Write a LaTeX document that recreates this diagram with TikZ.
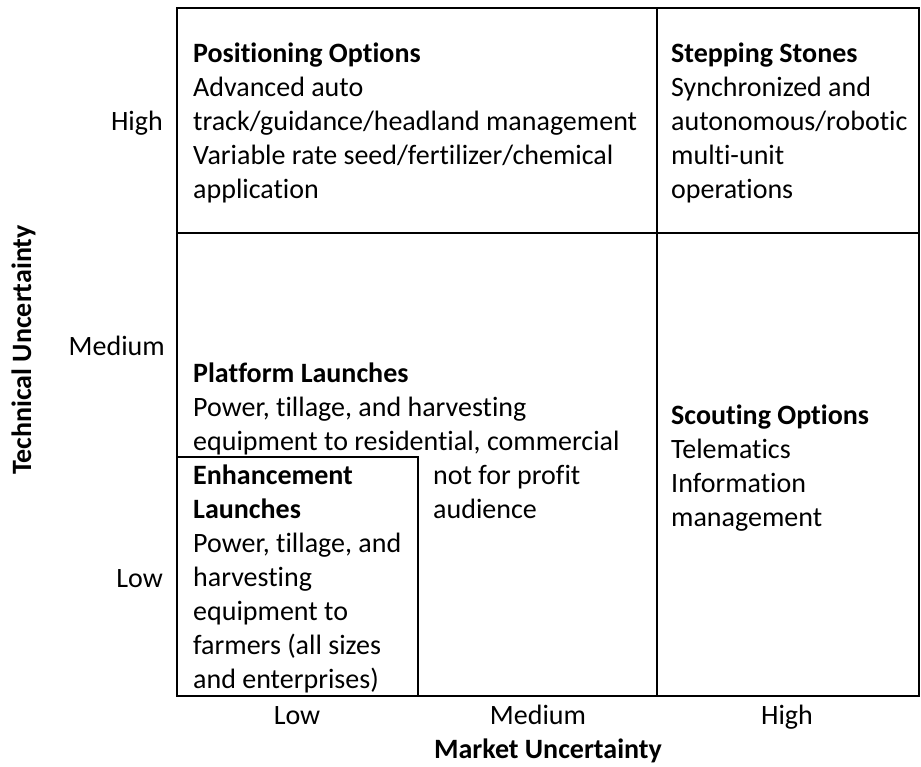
\documentclass[tikz,border=0pt]{standalone}
\usepackage{fontspec}
\setmainfont[Ligatures=NoCommon]{Carlito}
\begin{document}
\begin{tikzpicture}[x=1pt,y=-1pt,
  txt/.style={inner sep=0pt, anchor=base west, align=left, font=\fontsize{28}{34}\selectfont},
  axl/.style={inner sep=0pt, anchor=base east, font=\fontsize{28}{34}\selectfont},
  axb/.style={inner sep=0pt, anchor=base, font=\fontsize{28}{34}\selectfont},
  ttl/.style={inner sep=0pt, anchor=base, font=\fontsize{28}{34}\selectfont\bfseries},
  grid/.style={line width=2.2pt, black}]
\useasboundingbox (0,0) rectangle (921,766);
% grid
\coordinate (tl) at (177,8);
\coordinate (br) at (919,696);
\draw[grid] (tl) rectangle (br);
\draw[grid] (657,8) -- (657,696);
\draw[grid] (177,233) -- (919,233);
\draw[grid] (177,457) -- (418,457) -- (418,696);
% cells (anchor = baseline of last line)
\node[txt] (pos) at (193,198) {\textbf{Positioning Options}\\Advanced auto\\track/guidance/headland management\\Variable rate seed/fertilizer/chemical\\application};
\node[txt] (step) at (671,198) {\textbf{Stepping Stones}\\Synchronized and\\autonomous/robotic\\multi-unit\\operations};
\node[txt] (plat) at (193,450) {\textbf{Platform Launches}\\Power, tillage, and harvesting\\equipment to residential, commercial};
\node[txt] (plat2) at (433,518) {not for profit\\audience};
\node[txt] (enh) at (193,688) {\textbf{Enhancement}\\\textbf{Launches}\\Power, tillage, and\\harvesting\\equipment to\\farmers (all sizes\\and enterprises)};
\node[txt] (scout) at (671,526) {\textbf{Scouting Options}\\Telematics\\Information\\management};
% axes
\node[axl] (yh) at (163,130) {High};
\node[axl] (ym) at (165,355) {Medium};
\node[axl] (yl) at (163,587) {Low};
\node[axb] (xl) at (297,724) {Low};
\node[axb] (xm) at (538,724) {Medium};
\node[axb] (xh) at (787,724) {High};
\node[ttl] (xt) at (548,758) {Market Uncertainty};
\node[ttl, rotate=90] (yt) at (31,350) {Technical Uncertainty};
\end{tikzpicture}
\end{document}
